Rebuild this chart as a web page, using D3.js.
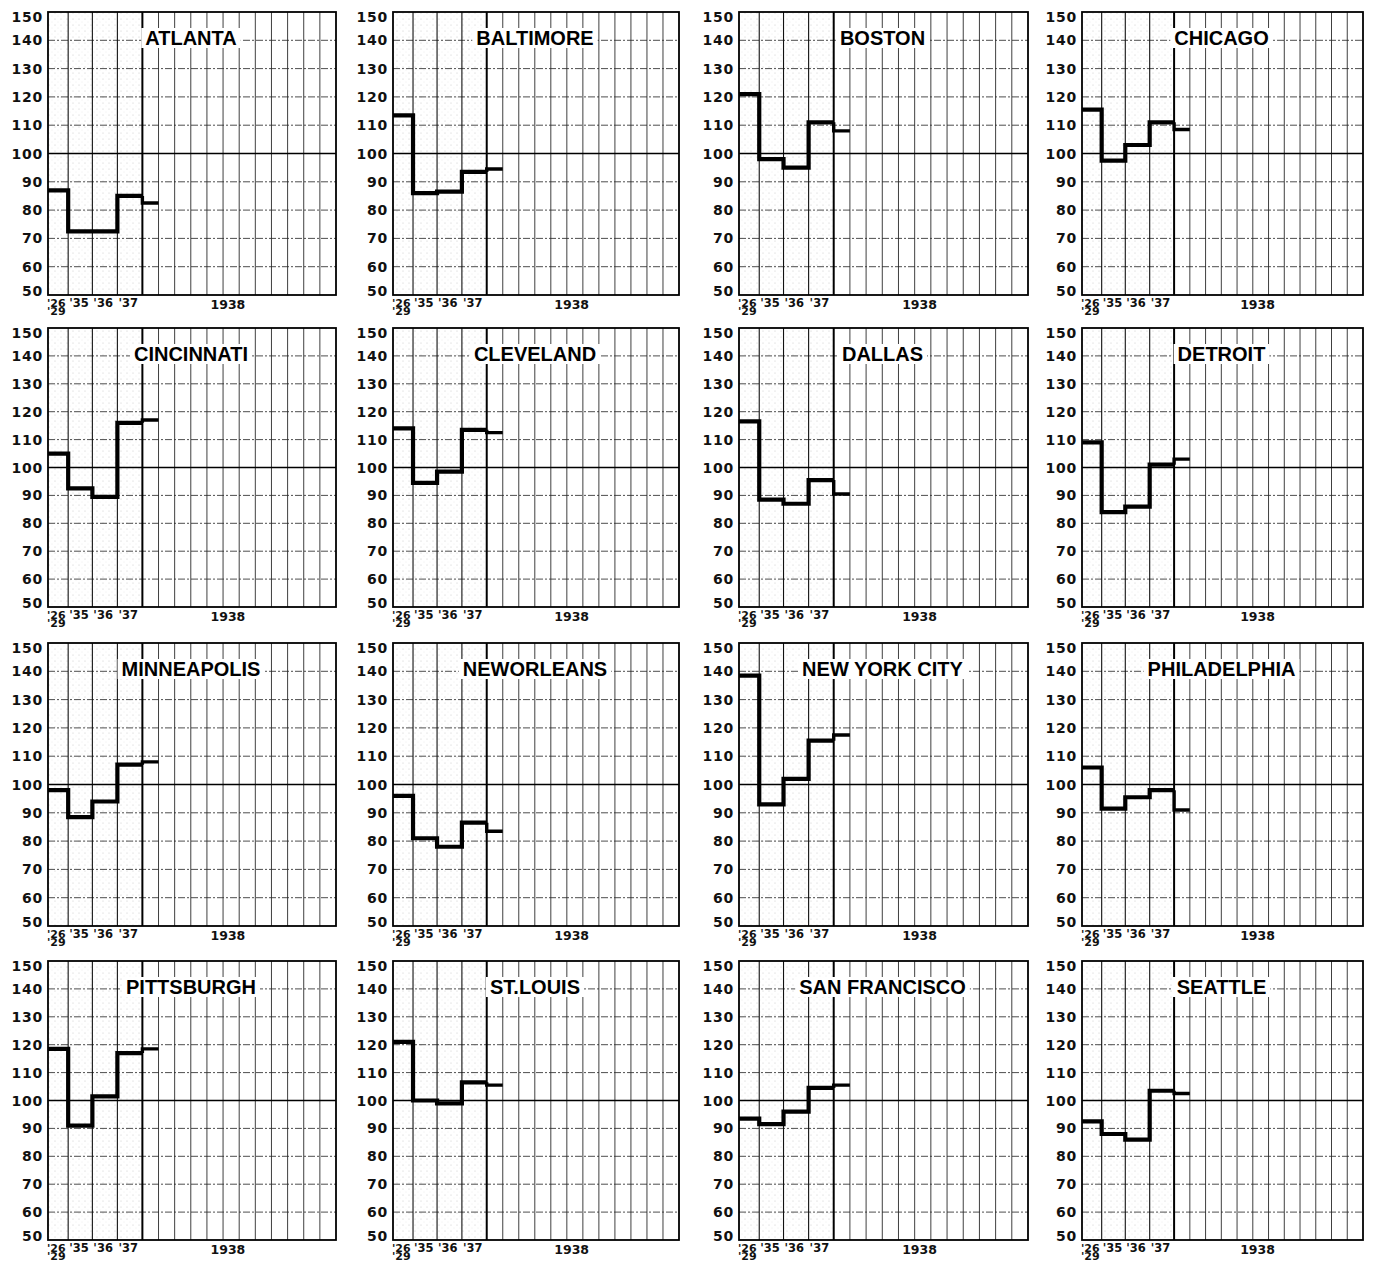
<!DOCTYPE html>
<html><head><meta charset="utf-8">
<script src="https://cdn.jsdelivr.net/npm/d3@7/dist/d3.min.js"></script>
<style>body{margin:0;background:#fff}</style>
</head><body>
<svg id="chart" width="1375" height="1261"></svg>
<script>
// ---------- DATA ----------
const cities = ["ATLANTA","BALTIMORE","BOSTON","CHICAGO",
  "CINCINNATI","CLEVELAND","DALLAS","DETROIT",
  "MINNEAPOLIS","NEWORLEANS","NEW YORK CITY","PHILADELPHIA",
  "PITTSBURGH","ST.LOUIS","SAN FRANCISCO","SEATTLE"];
const v1926_29 = [87, 113.5, 121, 115.5, 105, 114, 116.5, 109, 98, 96, 138.5, 106, 118.5, 121, 93.5, 92.5];
const v1935    = [72.5, 86, 98, 97.5, 92.5, 94.5, 88.5, 84, 88.5, 81, 93, 91.5, 91, 100, 91.5, 88];
const v1936    = [72.5, 86.5, 95, 103, 89.5, 98.5, 87, 86, 94, 78, 102, 95.5, 101.5, 99, 96, 86];
const v1937    = [85, 93.5, 111, 111, 116, 113.5, 95.5, 101, 107, 86.5, 115.5, 98, 117, 106.5, 104.5, 103.5];
const vJan1938 = [82.5, 94.5, 108, 108.5, 117, 112.5, 90.5, 103, 108, 83.5, 117.5, 91, 118.5, 105.5, 105.5, 102.5];
const yTicks = [50,60,70,80,90,100,110,120,130,140,150];
const periodLabels = ["'26","'35","'36","'37"];
const periodLabel2 = "'29";
const yearLabel = "1938";
const months1938 = ["Jan","Feb","Mar","Apr","May","Jun","Jul","Aug","Sep","Oct","Nov","Dec"];

// ---------- LAYOUT ----------
const colLeft = [48, 393, 739, 1082];
const colW = [288, 286, 289, 281];
const rowTop = [12, 328, 643, 961];
const rowH = [283, 279, 283, 279];
const periodUnits = [1.25, 1.5, 1.55, 1.55];   // widths of '26-29, '35, '36, '37 columns (month = 1)
const bounds = [0];
periodUnits.forEach(u => bounds.push(bounds[bounds.length-1] + u));
const yearStart = bounds[bounds.length-1];
const totalUnits = yearStart + months1938.length;

const svg = d3.select("#chart");
const defs = svg.append("defs");
const pat = defs.append("pattern").attr("id","stip").attr("patternUnits","userSpaceOnUse")
  .attr("width",6).attr("height",6);
pat.append("circle").attr("cx",1).attr("cy",1).attr("r",0.55).attr("fill","#9a9a9a");
pat.append("circle").attr("cx",4).attr("cy",4).attr("r",0.45).attr("fill","#b0b0b0");

const labelFont = "'DejaVu Sans', sans-serif";
const titleFont = "'Liberation Sans', Arial, sans-serif";

cities.forEach((city, i) => {
  const c = i % 4, r = Math.floor(i / 4);
  const left = colLeft[c], w = colW[c], top = rowTop[r], h = rowH[r];
  const x = d3.scaleLinear().domain([0, totalUnits]).range([left, left + w]);
  const y = d3.scaleLinear().domain([50, 150]).range([top + h, top]);
  const g = svg.append("g");

  // stipple shading of earlier periods
  g.append("rect").attr("x", x(0)).attr("y", y(150)).attr("width", x(yearStart) - x(0))
    .attr("height", y(50) - y(150)).attr("fill", "url(#stip)").attr("opacity", 0.55);

  // horizontal grid
  g.selectAll(".hg").data(yTicks.filter(t => t > 50 && t < 150 && t !== 100)).join("line")
    .attr("x1", x(0)).attr("x2", x(totalUnits)).attr("y1", d => y(d)).attr("y2", d => y(d))
    .attr("stroke", "#3a3a3a").attr("stroke-width", 0.9).attr("stroke-dasharray", "7,2,2,2");

  // month verticals
  const monthEdges = d3.range(1, months1938.length).map(k => yearStart + k);
  g.selectAll(".mg").data(monthEdges).join("line")
    .attr("x1", d => x(d)).attr("x2", d => x(d)).attr("y1", y(150)).attr("y2", y(50))
    .attr("stroke", "#2a2a2a").attr("stroke-width", 0.9);

  // period boundaries
  g.selectAll(".pg").data(bounds.slice(1, -1)).join("line")
    .attr("x1", d => x(d)).attr("x2", d => x(d)).attr("y1", y(150)).attr("y2", y(50))
    .attr("stroke", "#111").attr("stroke-width", 1.1);

  // 100 line
  g.append("line").attr("x1", x(0)).attr("x2", x(totalUnits)).attr("y1", y(100)).attr("y2", y(100))
    .attr("stroke", "#000").attr("stroke-width", 1.5);

  // 1937/1938 boundary
  g.append("line").attr("x1", x(yearStart)).attr("x2", x(yearStart)).attr("y1", y(150)).attr("y2", y(50))
    .attr("stroke", "#000").attr("stroke-width", 2);

  // title with white background
  const tg = g.append("g");
  const t = tg.append("text").attr("x", left + w / 2 - 1).attr("y", top + 33)
    .attr("text-anchor", "middle").attr("font-family", titleFont).attr("font-weight", "bold")
    .attr("font-size", 20).attr("fill", "#000").text(city);
  const bb = t.node().getBBox();
  tg.insert("rect", "text").attr("x", bb.x - 4).attr("y", bb.y + 1).attr("width", bb.width + 8)
    .attr("height", bb.height - 2).attr("fill", "#fff");

  // step line
  const vals = [v1926_29[i], v1935[i], v1936[i], v1937[i]];
  const pts = vals.map((v, k) => [bounds[k], v]);
  pts.push([yearStart, vals[3]]);
  const line = d3.line().x(d => x(d[0])).y(d => y(d[1])).curve(d3.curveStepAfter);
  g.append("path").attr("d", line(pts))
    .attr("fill", "none").attr("stroke", "#000").attr("stroke-width", 4.2).attr("stroke-linejoin", "miter");
  g.append("path").attr("d", line([[yearStart, vals[3]], [yearStart, vJan1938[i]], [yearStart + 1, vJan1938[i]]]))
    .attr("fill", "none").attr("stroke", "#000").attr("stroke-width", 3.4);

  // frame
  g.append("rect").attr("x", x(0)).attr("y", y(150)).attr("width", x(totalUnits) - x(0))
    .attr("height", y(50) - y(150)).attr("fill", "none").attr("stroke", "#000").attr("stroke-width", 1.8);

  // y labels
  g.selectAll(".yl").data(yTicks).join("text")
    .attr("x", left - 5)
    .attr("y", d => d === 150 ? y(d) + 10 : d === 50 ? y(d) + 0.5 : y(d) + 5)
    .attr("text-anchor", "end").attr("font-family", labelFont).attr("font-weight", "bold")
    .attr("font-size", 14).attr("letter-spacing", 0.8).attr("fill", "#111").text(d => d);

  // x labels: stacked '26 / '29 as a single text element
  const first = g.append("text").attr("x", x(0) - 1).attr("y", top + h + 11.5)
    .attr("font-family", labelFont).attr("font-weight", "bold").attr("font-size", 11)
    .attr("fill", "#111");
  first.append("tspan").attr("x", x(0) - 1).text(periodLabels[0]);
  first.append("tspan").attr("x", x(0) - 1).attr("dy", 8).text(periodLabel2);

  g.selectAll(".xl").data(periodLabels.slice(1)).join("text")
    .attr("x", (d, k) => x(bounds[k + 1]) + 1).attr("y", top + h + 12)
    .attr("font-family", labelFont).attr("font-weight", "bold").attr("font-size", 11.5)
    .attr("fill", "#111").text(d => d);
  g.append("text").attr("x", x(yearStart + 5.3)).attr("y", top + h + 14).attr("text-anchor", "middle")
    .attr("font-family", labelFont).attr("font-weight", "bold").attr("font-size", 12.5)
    .attr("fill", "#111").text(yearLabel);
});
</script>
</body></html>
